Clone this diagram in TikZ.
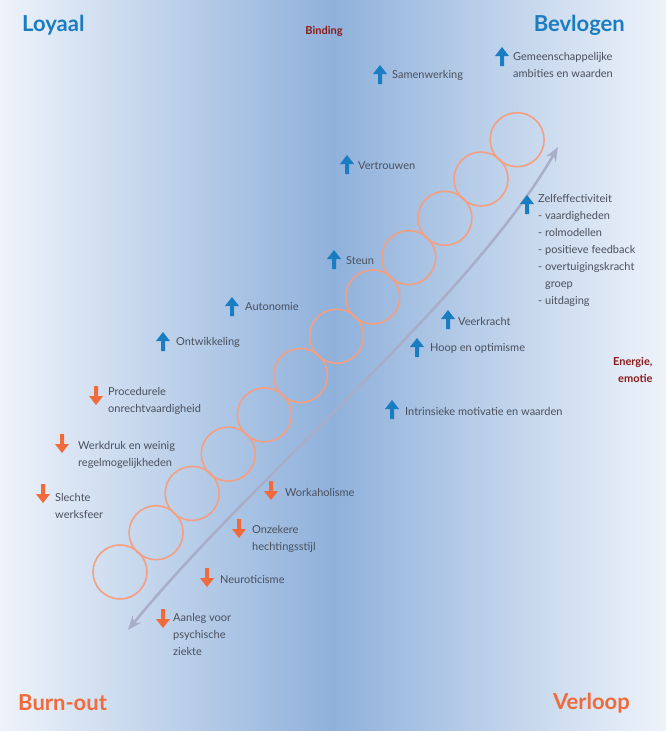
\documentclass[tikz,border=0pt]{standalone}
\usepackage{fontspec}
\setmainfont{Lato}
\usetikzlibrary{arrows.meta}
\definecolor{bl}{HTML}{1A7CC1}
\definecolor{orng}{HTML}{F06A3C}
\definecolor{drd}{HTML}{8B1A1A}
\definecolor{bgd}{HTML}{8FB1DB}
\definecolor{bgl}{HTML}{EEF3FA}
\definecolor{txt}{HTML}{4A4F5C}
\definecolor{garr}{HTML}{A8AEC8}
\begin{document}
\begin{tikzpicture}[x=1pt,y=-1pt,
  lbl/.style={anchor=west,text=txt,font=\fontsize{11}{17}\selectfont,align=left,inner sep=0pt},
  corner/.style={font=\fontsize{22}{24}\selectfont\bfseries,inner sep=0pt},
  up/.pic={\fill[bl] (-7,-1)--(0,-10)--(7,-1)--(2,-1)--(2,9)--(-2,9)--(-2,-1)--cycle;},
  dn/.pic={\fill[orng] (-7,1)--(0,10)--(7,1)--(2,1)--(2,-9)--(-2,-9)--(-2,1)--cycle;},
  ring/.style={draw=orng!65,line width=1.6pt}]
\useasboundingbox (0,0) rectangle (666,731);
\shade[left color=bgl,right color=bgd] (0,0) rectangle (333,731);
\shade[left color=bgd,right color=bgl] (333,0) rectangle (666,731);
% spiral
\foreach \i in {0,...,11}
  \draw[ring] (120+36.1*\i,572-39.3*\i) circle (27);
\coordinate (gs) at (128,630);
\coordinate (ge) at (558,147);
\draw[garr,line width=2.5pt,{Stealth[length=14pt,width=11pt]}-{Stealth[length=14pt,width=11pt]}]
  (gs) .. controls (250,480) and (470,300) .. (ge);
% corners
\node[corner,text=bl,anchor=west] (loy) at (22,25) {Loyaal};
\node[corner,text=bl,anchor=east] (bev) at (625,25) {Bevlogen};
\node[corner,text=orng,anchor=west] (bo) at (18,703) {Burn-out};
\node[corner,text=orng,anchor=east] (ver) at (630,703) {Verloop};
\node[text=drd,font=\fontsize{11}{12}\selectfont\bfseries] (bind) at (324,31) {Binding};
\node[text=drd,font=\fontsize{11}{17}\selectfont\bfseries,align=right,anchor=east] (en) at (656,370) {Energie,\\emotie};
% up items
\pic at (380,75) {up}; \node[lbl] (t1) at (392,75) {Samenwerking};
\pic at (502,57) {up}; \node[lbl] (t2) at (513,65) {Gemeenschappelijke\\ambities en waarden};
\pic at (347,165) {up}; \node[lbl] (t3) at (358,166) {Vertrouwen};
\pic at (527,205) {up}; \node[lbl,anchor=north west] (t4) at (538,194) {Zelfeffectiviteit\\- vaardigheden\\- rolmodellen\\- positieve feedback\\- overtuigingskracht\\\hphantom{- }groep\\- uitdaging};
\pic at (334,260) {up}; \node[lbl] (t5) at (346,261) {Steun};
\pic at (232,307) {up}; \node[lbl] (t6) at (245,307) {Autonomie};
\pic at (163,342) {up}; \node[lbl] (t7) at (176,342) {Ontwikkeling};
\pic at (448,320) {up}; \node[lbl] (t8) at (458,321) {Veerkracht};
\pic at (417,348) {up}; \node[lbl] (t9) at (430,348) {Hoop en optimisme};
\pic at (392,410) {up}; \node[lbl] (t10) at (405,411) {Intrinsieke motivatie en waarden};
% down items
\pic at (96,395) {dn}; \node[lbl] (d1) at (108,401) {Procedurele\\onrechtvaardigheid};
\pic at (62,443) {dn}; \node[lbl] (d2) at (78,455) {Werkdruk en weinig\\regelmogelijkheden};
\pic at (43,493) {dn}; \node[lbl] (d3) at (55,506) {Slechte\\werksfeer};
\pic at (271,490) {dn}; \node[lbl] (d4) at (285,492) {Workaholisme};
\pic at (239,528) {dn}; \node[lbl] (d5) at (252,539) {Onzekere\\hechtingsstijl};
\pic at (207,577) {dn}; \node[lbl] (d6) at (220,580) {Neuroticisme};
\pic at (163,618) {dn}; \node[lbl,anchor=north west] (d7) at (173,613) {Aanleg voor\\psychische\\ziekte};
\end{tikzpicture}
\end{document}
